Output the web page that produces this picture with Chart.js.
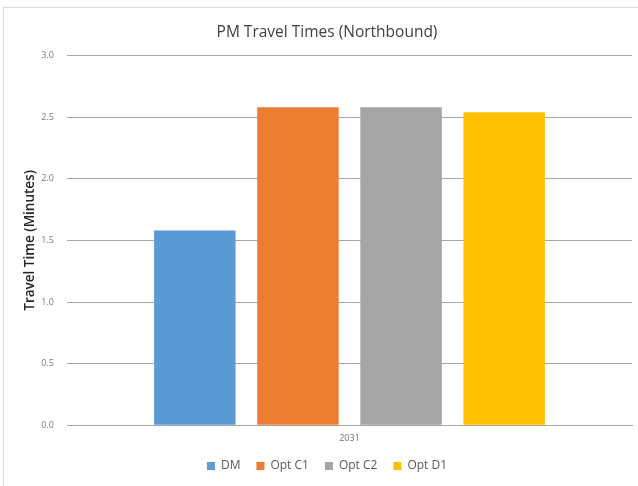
<!DOCTYPE html>
<html lang="en">
<head>
    <meta charset="UTF-8">
    <title>PM Travel Times (Northbound)</title>
    <script src="https://cdn.jsdelivr.net/npm/chart.js"></script>
    <style>
        body { margin: 0; background: #fff; }
        #wrap { position: absolute; left: 3px; top: 7px; width: 640px; height: 485px; border: 1px solid #d9d9d9; box-sizing: border-box; }
        canvas { position: absolute; left: -4px; top: -8px; }
    </style>
</head>
<body>
    <div id="wrap"><canvas id="travelChart" width="638" height="486"></canvas></div>
    <script>
        const categories = ['2031'];
        const seriesNames = ['DM', 'Opt C1', 'Opt C2', 'Opt D1'];
        const seriesValues = [[1.58], [2.58], [2.58], [2.54]];
        const seriesColors = ['#5b9bd5', '#ed7d31', '#a5a5a5', '#ffc000'];

        const font = 'Open Sans';

        const data = {
            labels: categories,
            datasets: seriesNames.map((name, i) => ({
                label: name,
                data: seriesValues[i],
                backgroundColor: seriesColors[i],
                borderWidth: 0,
                categoryPercentage: 0.73,
                barPercentage: 0.79
            }))
        };

        const config = {
            type: 'bar',
            data: data,
            options: {
                responsive: false,
                animation: false,
                layout: { padding: { left: 22, right: 6, top: 0, bottom: 4 } },
                plugins: {
                    title: {
                        display: true,
                        text: 'PM Travel Times (Northbound)',
                        color: '#404040',
                        font: { family: font, size: 15.5, weight: 'normal' },
                        padding: { top: 23, bottom: 14 }
                    },
                    legend: {
                        position: 'bottom',
                        labels: {
                            boxWidth: 8,
                            boxHeight: 8,
                            color: '#595959',
                            font: { family: font, size: 12 },
                            padding: 16
                        }
                    },
                    tooltip: { enabled: false }
                },
                scales: {
                    x: {
                        grid: { display: false },
                        border: { display: true, color: '#a6a6a6', width: 1 },
                        ticks: { color: '#707070', font: { family: font, size: 9 }, padding: 0 }
                    },
                    y: {
                        min: 0,
                        max: 3,
                        ticks: {
                            stepSize: 0.5,
                            color: '#7a7a7a',
                            font: { family: font, size: 9 },
                            padding: 13,
                            callback: v => v.toFixed(1)
                        },
                        grid: { color: '#a6a6a6', drawTicks: false },
                        border: { display: false },
                        title: {
                            display: true,
                            text: 'Travel Time (Minutes)',
                            color: '#262626',
                            font: { family: font, size: 13.5, weight: '600' },
                            padding: { top: 0, bottom: 4 }
                        },
                        afterFit: scale => { scale.width = 45; }
                    }
                }
            }
        };

        new Chart(document.getElementById('travelChart'), config);
    </script>
</body>
</html>
